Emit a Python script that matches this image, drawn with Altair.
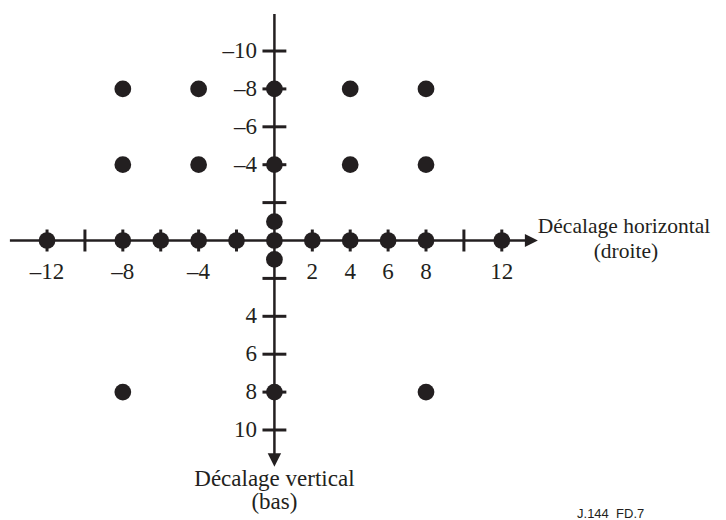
import altair as alt
import pandas as pd

INK = "#231f20"
SERIF = "Liberation Serif"

# plot-area data domain (units of the offset grid)
XMIN, XMAX = -14.06, 23.41
YMIN, YMAX = -12.27, 14.75

# sample positions (x = horizontal offset, y = vertical offset, down positive)
dot_x = [-12, -8, -6, -4, -2, 0, 2, 4, 6, 8, 12, 0, 0,
         -8, -4, 0, 4, 8,
         -8, -4, 0, 4, 8,
         -8, 0, 8]
dot_y = [0] * 11 + [-1, 1] + [-8] * 5 + [-4] * 5 + [8] * 3

x_tick_vals = [-12, -10, -8, -6, -4, -2, 2, 4, 6, 8, 10, 12]
y_tick_vals = [-10, -8, -6, -4, -2, 2, 4, 6, 8, 10]
x_label_vals = [-12, -8, -4, 2, 4, 6, 8, 12]
y_label_vals = [-10, -8, -6, -4, 4, 6, 8, 10]


def lab(v):
    return f"\u2013{abs(v)}" if v < 0 else str(v)


xs = alt.Scale(domain=[XMIN, XMAX], nice=False, zero=False)
ys = alt.Scale(domain=[YMIN, YMAX], nice=False, zero=False, reverse=True)

X = lambda f="x": alt.X(f"{f}:Q", scale=xs, axis=None)
Y = lambda f="y": alt.Y(f"{f}:Q", scale=ys, axis=None)

# axis lines
axes_df = pd.DataFrame({
    "x": [-13.96, 0], "x2": [13.56, 0],
    "y": [0, -11.95], "y2": [0, 11.58],
})
axes = alt.Chart(axes_df).mark_rule(color=INK, strokeWidth=2.5).encode(
    x=X(), x2="x2:Q", y=Y(), y2="y2:Q"
)

# ticks
xt = pd.DataFrame({"x": x_tick_vals})
xt["y"] = -0.58
xt["y2"] = 0.58
xticks = alt.Chart(xt).mark_rule(color=INK, strokeWidth=3).encode(
    x=X(), y=Y(), y2="y2:Q"
)
yt = pd.DataFrame({"y": y_tick_vals})
yt["x"] = -0.63
yt["x2"] = 0.63
yticks = alt.Chart(yt).mark_rule(color=INK, strokeWidth=3).encode(
    x=X(), x2="x2:Q", y=Y()
)

# arrow heads
arr_r = alt.Chart(pd.DataFrame({"x": [13.56], "y": [0]})).mark_point(
    shape="M-1,-1L1,0L-1,1Z", size=169, filled=True, opacity=1, color=INK
).encode(x=X(), y=Y())
arr_d = alt.Chart(pd.DataFrame({"x": [0], "y": [11.58]})).mark_point(
    shape="M-1,-1L1,-1L0,1Z", size=180, filled=True, opacity=1, color=INK
).encode(x=X(), y=Y())

# dots
dots = alt.Chart(pd.DataFrame({"x": dot_x, "y": dot_y})).mark_point(
    shape="circle", size=280, filled=True, opacity=1, color=INK
).encode(x=X(), y=Y())

# tick labels
xl = pd.DataFrame({"x": x_label_vals, "t": [lab(v) for v in x_label_vals]})
xl["y"] = 0
xlabels = alt.Chart(xl).mark_text(
    font=SERIF, fontSize=23, color=INK, baseline="middle", align="center", dy=31
).encode(x=X(), y=Y(), text="t:N")
yl = pd.DataFrame({"y": y_label_vals, "t": [lab(v) for v in y_label_vals]})
yl["x"] = 0
ylabels = alt.Chart(yl).mark_text(
    font=SERIF, fontSize=23, color=INK, baseline="middle", align="right", dx=-17.5
).encode(x=X(), y=Y(), text="t:N")

# axis titles
def txt(s, x, y, align="center", size=23.5, font=SERIF):
    return alt.Chart(pd.DataFrame({"x": [x], "y": [y], "t": [s]})).mark_text(
        font=font, fontSize=size, color=INK, align=align, baseline="alphabetic"
    ).encode(x=X(), y=Y(), text="t:N")

t1 = txt("Décalage horizontal", 13.9, -0.4, align="left", size=21.5)
t2 = txt("(droite)", 18.55, 0.9, size=21.5)
t3 = txt("Décalage vertical", 0, 12.93, size=23)
t4 = txt("(bas)", 0, 14.16, size=23)
foot = txt("J.144\u00a0\u00a0FD.7", 15.97, 14.62, align="left", size=13, font="Liberation Sans")

chart = alt.layer(
    axes, xticks, yticks, arr_r, arr_d, dots, xlabels, ylabels, t1, t2, t3, t4, foot
).properties(
    width=710, height=512, padding=0,
    autosize=alt.AutoSizeParams(type="none"),
    background="white",
).configure_view(stroke=None)

chart.save("out.html", embed_options={"renderer": "svg", "actions": False})
